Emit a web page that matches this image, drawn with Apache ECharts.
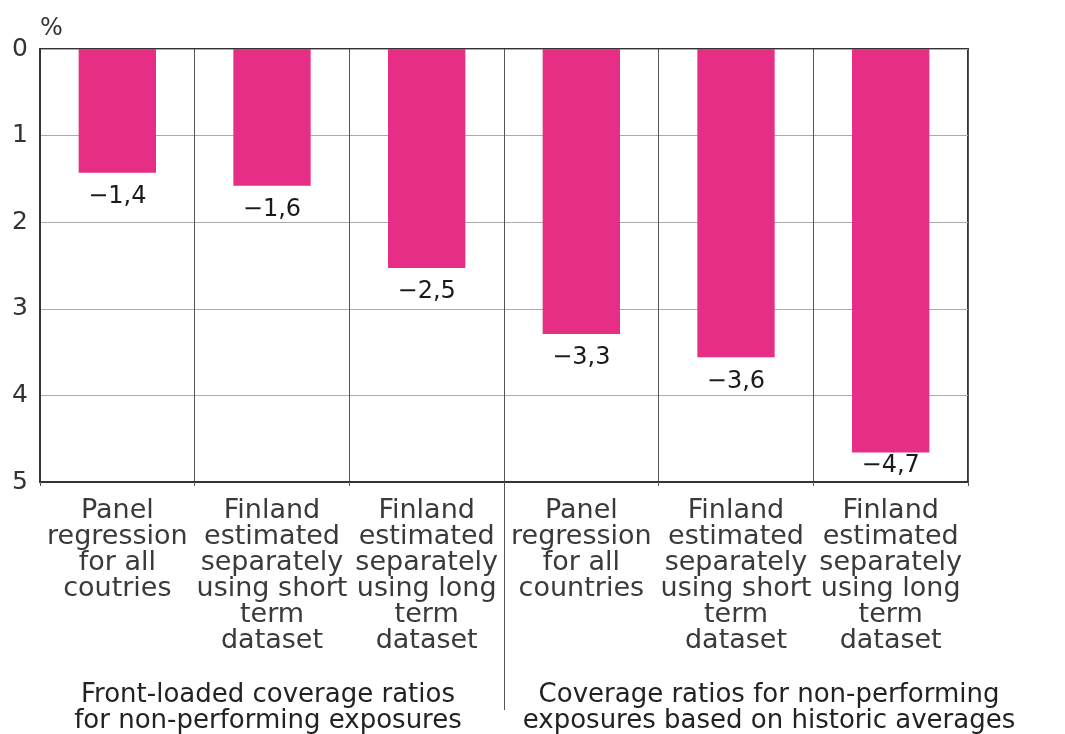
<!DOCTYPE html>
<html>
<head>
<meta charset="utf-8">
<script src="https://cdn.jsdelivr.net/npm/echarts@6/dist/echarts.min.js"></script>
<style>
html,body{margin:0;padding:0;background:#fff;}
#c{width:1065px;height:734px;}
</style>
</head>
<body>
<div id="c"></div>
<script>
const categories = [
  'Panel\nregression\nfor all\ncoutries',
  'Finland\nestimated\nseparately\nusing short\nterm\ndataset',
  'Finland\nestimated\nseparately\nusing long\nterm\ndataset',
  'Panel\nregression\nfor all\ncountries',
  'Finland\nestimated\nseparately\nusing short\nterm\ndataset',
  'Finland\nestimated\nseparately\nusing long\nterm\ndataset'
];
const values = [1.43, 1.58, 2.53, 3.29, 3.56, 4.66];
const valueLabels = ['−1,4', '−1,6', '−2,5', '−3,3', '−3,6', '−4,7'];
const groupLabels = [
  'Front-loaded coverage ratios\nfor non-performing exposures',
  'Coverage ratios for non-performing\nexposures based on historic averages'
];
const yMin = 0, yMax = 5, yStep = 1;
const yUnit = '%';

const FONT = '"DejaVu Sans", sans-serif';
const GRID = {left: 40, right: 97, top: 49, bottom: 252};
const LABEL_SIZE = 24, LABEL_GAP = 12;
const plotH = 734 - GRID.top - GRID.bottom;
// keep value labels inside the plot: shrink the gap when the bar ends near the bottom
const seriesData = values.map(v => {
  const room = (yMax - v) / (yMax - yMin) * plotH - LABEL_SIZE * 1.2;
  const d = Math.max(1, Math.min(LABEL_GAP, room));
  return {value: v, label: {distance: d}};
});

const chart = echarts.init(document.getElementById('c'), null, {renderer: 'canvas'});
const option = {
  animation: false,
  backgroundColor: '#fff',
  textStyle: {fontFamily: FONT},
  grid: Object.assign({show: true, borderColor: '#333', borderWidth: 2, backgroundColor: 'transparent'}, GRID),
  xAxis: {
    type: 'category',
    data: categories,
    axisLine: {onZero: false, lineStyle: {color: '#333', width: 2}},
    axisTick: {show: true, length: 4, lineStyle: {color: '#555'}},
    splitLine: {show: true, lineStyle: {color: '#555', width: 1}},
    axisLabel: {interval: 0, margin: 16, fontSize: 27, lineHeight: 26, color: '#3a3a3a', fontFamily: FONT}
  },
  yAxis: {
    type: 'value',
    inverse: true,
    min: yMin, max: yMax, interval: yStep,
    name: yUnit,
    nameLocation: 'start',
    nameGap: 8,
    nameTextStyle: {fontSize: 24, color: '#333', align: 'left', fontFamily: FONT},
    axisLine: {show: true, lineStyle: {color: '#333', width: 2}},
    axisTick: {show: false},
    splitLine: {show: true, lineStyle: {color: '#aaa', width: 1}},
    axisLabel: {fontSize: 25, color: '#333', margin: 12, fontFamily: FONT}
  },
  series: [{
    type: 'bar',
    data: seriesData,
    barWidth: '50%',
    itemStyle: {color: '#e62e87'},
    label: {
      show: true,
      position: 'bottom',
      distance: LABEL_GAP,
      fontSize: LABEL_SIZE,
      color: '#1a1a1a',
      fontFamily: FONT,
      formatter: p => valueLabels[p.dataIndex]
    }
  }]
};
chart.setOption(option);

function place() {
  const x1 = chart.convertToPixel({xAxisIndex: 0}, 1);
  const x2 = chart.convertToPixel({xAxisIndex: 0}, 2);
  const x3 = chart.convertToPixel({xAxisIndex: 0}, 3);
  const x4 = chart.convertToPixel({xAxisIndex: 0}, 4);
  const yBottom = chart.convertToPixel({yAxisIndex: 0}, yMax);
  const sepX = Math.round((x2 + x3) / 2) + 0.5;
  chart.setOption({
    graphic: [
      {type: 'line', shape: {x1: sepX, y1: yBottom, x2: sepX, y2: yBottom + 228}, style: {stroke: '#555', lineWidth: 1}, silent: true},
      {type: 'text', x: x1 - 4, y: yBottom + 200, style: {text: groupLabels[0], font: '26px "DejaVu Sans"', fill: '#222', align: 'center', lineHeight: 26}},
      {type: 'text', x: x4 + 33, y: yBottom + 200, style: {text: groupLabels[1], font: '26px "DejaVu Sans"', fill: '#222', align: 'center', lineHeight: 26}}
    ]
  });
}
place();
</script>
</body>
</html>
